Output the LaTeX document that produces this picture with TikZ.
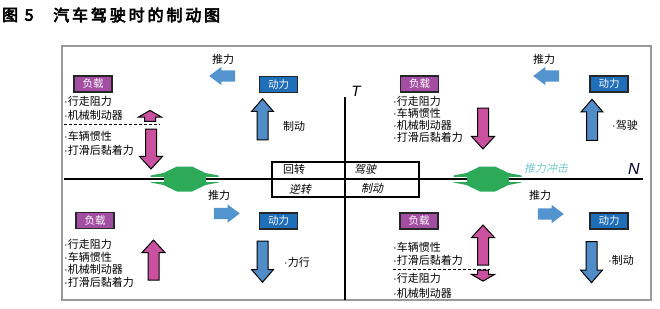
\documentclass[tikz,border=0pt]{standalone}
\usepackage{fontspec}
\setmainfont{Noto Sans CJK SC}
\newfontfamily\slantfont[FakeSlant=0.2]{Noto Sans CJK SC}
\newfontfamily\titlefont[FakeBold=4,LetterSpace=18]{Noto Sans CJK SC}
\newfontfamily\axisfont{Liberation Sans}
\newcommand{\listdot}{{\axisfont ·}}
\usetikzlibrary{shapes.arrows, positioning}

\definecolor{loadpurple}{RGB}{163,78,163}
\definecolor{powerblue}{RGB}{30,110,185}
\definecolor{arrowblue}{RGB}{80,140,200}
\definecolor{pushblue}{RGB}{84,148,206}
\definecolor{arrowpink}{RGB}{202,80,160}
\definecolor{markgreen}{RGB}{44,170,88}
\definecolor{impacttext}{RGB}{120,200,208}

\begin{document}
\begin{tikzpicture}[x=1pt, y=-1pt,
    every node/.style={inner sep=0},
    load/.style={rectangle, draw=black!85, line width=1.3, fill=loadpurple, text=white, minimum width=38, minimum height=16, font=\fontsize{10.5}{12}\selectfont},
    power/.style={load, fill=powerblue},
    listtext/.style={anchor=west, font=\fontsize{11}{12}\selectfont},
    pushtext/.style={font=\fontsize{11}{12}\selectfont},
    vblue/.style={single arrow, draw=black, line width=1, fill=arrowblue, inner ysep=5, single arrow head extend=5.5, single arrow tip angle=82, minimum height=41},
    vpink/.style={vblue, fill=arrowpink, single arrow tip angle=85, single arrow head extend=6},
    vpinkshort/.style={vpink, single arrow tip angle=120, minimum height=11},
    hblue/.style={single arrow, draw=none, fill=pushblue, inner ysep=5.5, single arrow head extend=3.5, single arrow tip angle=74, minimum height=26},
    axis/.style={line width=2},
    casing/.style={white, line width=5},
    greenmark/.style={fill=markgreen, draw=none}
]
\useasboundingbox (0,0) rectangle (660,308);

% title
\node (titlenum) [anchor=west, font=\titlefont\fontsize{16}{18}\selectfont] at (2,15) {图 5};
\node (titletext) [anchor=west, font=\titlefont\fontsize{16}{18}\selectfont] at (53,15) {汽车驾驶时的制动图};

% frame
\draw [black!40, line width=1.2] (62,46) rectangle (651,300);

% green marks on the N axis
\fill [greenmark, shift={(184.5,179)}] (-34,-3.5) -- (-21,-6) -- (-7.5,-12.5) -- (7.5,-12.5) -- (21,-6) -- (34,-3.5)
    -- (34,3.5) -- (21,6) -- (7.5,12.5) -- (-7.5,12.5) -- (-21,6) -- (-34,3.5) -- cycle;
\fill [greenmark, shift={(487.5,179)}] (-34,-3.5) -- (-21,-6) -- (-7.5,-12.5) -- (7.5,-12.5) -- (21,-6) -- (34,-3.5)
    -- (34,3.5) -- (21,6) -- (7.5,12.5) -- (-7.5,12.5) -- (-21,6) -- (-34,3.5) -- cycle;

% axes
\coordinate (nstart) at (64,179);
\coordinate (nend) at (643,179);
\coordinate (ttop) at (345,97);
\coordinate (tbottom) at (345,300);
\coordinate (gl1) at (150,179);
\coordinate (gl2) at (163.5,179);
\coordinate (gl3) at (205.5,179);
\coordinate (gl4) at (219,179);
\coordinate (gr1) at (453,179);
\coordinate (gr2) at (466.5,179);
\coordinate (gr3) at (508.5,179);
\coordinate (gr4) at (522,179);
\draw [casing] (gl1) -- (gl2) (gl3) -- (gl4) (gr1) -- (gr2) (gr3) -- (gr4);
\draw [axis] (nstart) -- (gl2) (gl3) -- (gr2) (gr3) -- (nend);
\draw [axis] (ttop) -- (tbottom);
\node (T) [font=\axisfont\itshape\fontsize{15}{16}\selectfont] at (356,91) {T};
\node (N) [font=\axisfont\itshape\fontsize{16}{17}\selectfont, text=black!85!blue] at (634,169) {N};
\node (impact) [font=\slantfont\fontsize{11}{12}\selectfont, text=impacttext] at (546,168) {推力冲击};

% centre table
\draw [line width=1.2] (272,162) rectangle (419,197);
\node (huizhuan) [pushtext] at (294,169) {回转};
\node (jiashi) [pushtext, font=\slantfont\fontsize{11}{12}\selectfont] at (365,169) {驾驶};
\node (nizhuan) [pushtext, font=\slantfont\fontsize{11}{12}\selectfont] at (300,189) {逆转};
\node (zhidong) [pushtext, font=\slantfont\fontsize{11}{12}\selectfont] at (372,188) {制动};

% upper left: braking
\node (loadA) [load] at (93,84) {负载};
\node (powerA) [power] at (278.5,84.5) {动力};
\node (pushA) [pushtext] at (223,59) {推力};
\node (pusharrowA) [hblue, rotate=180] at (226,76) {};
\node (listA1) [listtext] at (64,101) {\listdot 行走阻力};
\node (listA2) [listtext] at (64,115) {\listdot 机械制动器};
\node (listA3) [listtext] at (64,136) {\listdot 车辆惯性};
\node (listA4) [listtext] at (64,150) {\listdot 打滑后黏着力};
\draw [dashed, dash pattern=on 3pt off 2pt, line width=1] (64,124) -- (160,124);
\node (loadarrowA1) [vpinkshort, rotate=90] at (150,117.5) {};
\node (loadarrowA2) [vpink, rotate=-90, minimum height=40] at (151,146) {};
\node (powerarrowA) [vblue, rotate=90] at (262.5,122.5) {};
\node (sideA) [pushtext] at (294,126) {制动};

% upper right: driving
\node (loadB) [load] at (419.5,84) {负载};
\node (powerB) [power] at (609,84) {动力};
\node (pushB) [pushtext] at (544,59) {推力};
\node (pusharrowB) [hblue, rotate=180] at (550,76) {};
\node (listB1) [listtext] at (393,101) {\listdot 行走阻力};
\node (listB2) [listtext] at (393,113) {\listdot 车辆惯性};
\node (listB3) [listtext] at (393,125) {\listdot 机械制动器};
\node (listB4) [listtext] at (393,137) {\listdot 打滑后黏着力};
\node (loadarrowB) [vpink, rotate=-90] at (483,125.5) {};
\node (powerarrowB) [vblue, rotate=90] at (592,123) {};
\node (sideB) [listtext] at (612,125) {\listdot 驾驶};

% lower left: power running
\node (loadC) [load] at (95,220.5) {负载};
\node (powerC) [power] at (278.5,221) {动力};
\node (pushC) [pushtext] at (219,195) {推力};
\node (pusharrowC) [hblue] at (223,213.5) {};
\node (listC1) [listtext] at (64,244) {\listdot 行走阻力};
\node (listC2) [listtext] at (64,257) {\listdot 车辆惯性};
\node (listC3) [listtext] at (64,269) {\listdot 机械制动器};
\node (listC4) [listtext] at (64,282) {\listdot 打滑后黏着力};
\node (loadarrowC) [vpink, rotate=90, minimum height=40] at (153.5,263) {};
\node (powerarrowC) [vblue, rotate=-90] at (262.5,258.5) {};
\node (sideC) [listtext] at (284,262) {\listdot 力行};

% lower right: braking
\node (loadD) [load] at (419,221) {负载};
\node (powerD) [power] at (609,221) {动力};
\node (pushD) [pushtext] at (540,195) {推力};
\node (pusharrowD) [hblue] at (547,214) {};
\node (listD1) [listtext] at (393,247) {\listdot 车辆惯性};
\node (listD2) [listtext] at (393,260) {\listdot 打滑后黏着力};
\node (listD3) [listtext] at (393,278) {\listdot 行走阻力};
\node (listD4) [listtext] at (393,293) {\listdot 机械制动器};
\draw [dashed, dash pattern=on 3pt off 2pt, line width=1] (393,269) -- (490,269);
\node (loadarrowD1) [vpink, rotate=90, minimum height=40] at (483,248) {};
\node (loadarrowD2) [vpinkshort, rotate=-90] at (483,274) {};
\node (powerarrowD) [vblue, rotate=-90] at (591.5,259) {};
\node (sideD) [listtext] at (608,260) {\listdot 制动};
\end{tikzpicture}
\end{document}
